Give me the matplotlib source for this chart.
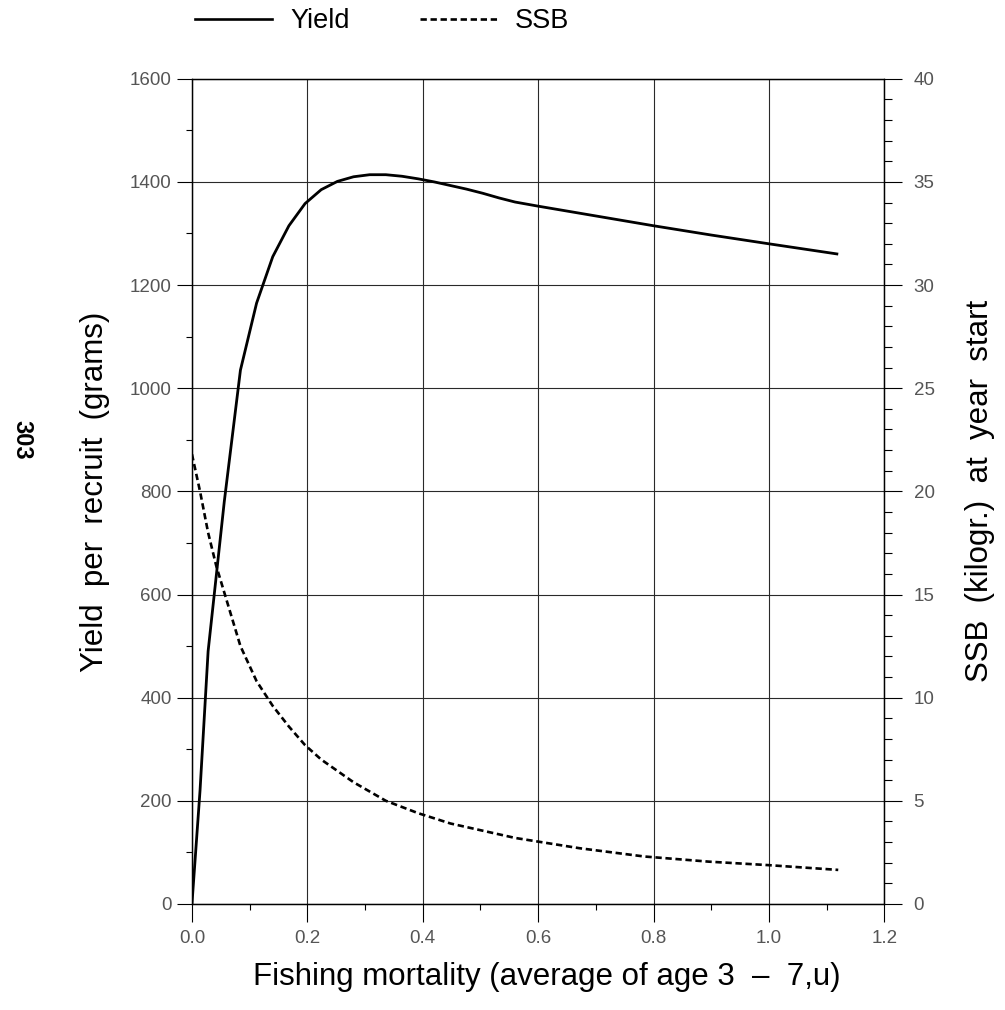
import numpy as np
import matplotlib.pyplot as plt
from matplotlib.ticker import MultipleLocator
from matplotlib.lines import Line2D

plt.rcParams.update({
    "font.family": ["Liberation Sans", "DejaVu Sans"],
    "axes.linewidth": 0.9,
})

# =====================================================
# Data
# =====================================================

f_yield = [0.0, 0.014, 0.028, 0.056, 0.084, 0.112, 0.14, 0.168, 0.196,
           0.224, 0.252, 0.28, 0.308, 0.336, 0.364, 0.392, 0.42, 0.448,
           0.476, 0.504, 0.532, 0.56, 0.6, 0.7, 0.8, 0.9, 1.0, 1.12]
yield_per_recruit = [0, 220, 490, 780, 1035, 1165, 1255, 1315, 1358,
                     1385, 1401, 1410, 1414, 1414, 1411, 1406, 1400, 1393,
                     1386, 1378, 1369, 1361, 1353, 1334, 1315, 1297, 1280, 1260]

f_ssb = [0.0, 0.014, 0.028, 0.042, 0.056, 0.084, 0.112, 0.14, 0.168,
         0.196, 0.224, 0.252, 0.28, 0.336, 0.392, 0.448, 0.56, 0.672,
         0.784, 0.896, 1.0, 1.12]
ssb = [21.8, 20.0, 18.0, 16.4, 15.1, 12.5, 10.8, 9.6, 8.6,
       7.7, 7.0, 6.45, 5.9, 5.0, 4.4, 3.9, 3.2, 2.7,
       2.3, 2.05, 1.88, 1.65]

x_ticks = [0.0, 0.2, 0.4, 0.6, 0.8, 1.0, 1.2]
y_ticks = [0, 200, 400, 600, 800, 1000, 1200, 1400, 1600]
y2_ticks = [0, 5, 10, 15, 20, 25, 30, 35, 40]

# =====================================================
# Plot
# =====================================================

fig = plt.figure(figsize=(10.05, 10.1), dpi=100)
ax = fig.add_axes([0.191, 0.105, 0.689, 0.817])
ax2 = ax.twinx()

ax.plot(f_yield, yield_per_recruit, color="black", linewidth=2.0,
        solid_capstyle="butt")
ax2.plot(f_ssb, ssb, color="black", linewidth=1.9, dashes=(2.4, 1.4))

ax.set_xlim(0, 1.2)
ax.set_ylim(0, 1600)
ax2.set_ylim(0, 40)

ax.set_xticks(x_ticks)
ax.set_xticklabels([f"{v:.1f}" for v in x_ticks])
ax.set_yticks(y_ticks)
ax2.set_yticks(y2_ticks)
ax.xaxis.set_minor_locator(MultipleLocator(0.1))
ax.yaxis.set_minor_locator(MultipleLocator(100))
ax2.yaxis.set_minor_locator(MultipleLocator(1))

ax.grid(True, which="major", color="#2a2a2a", linewidth=0.8)
ax.set_axisbelow(True)

tick_col = "#555555"
ax.tick_params(axis="both", which="major", direction="out", length=11,
               width=0.8, labelsize=13.5, labelcolor=tick_col)
ax.tick_params(axis="x", which="major", length=13, pad=6)
ax.tick_params(axis="both", which="minor", direction="out", length=4.5,
               width=0.8)
ax2.tick_params(axis="y", which="major", direction="out", length=13,
                width=0.8, labelsize=13.5, labelcolor=tick_col, pad=8)
ax2.tick_params(axis="y", which="minor", direction="out", length=6,
                width=0.8)

ax.set_xlabel("Fishing mortality (average of age 3  \u2013  7,u)",
              fontsize=22.5)
ax.xaxis.set_label_coords(0.513, -0.07)
ax.set_ylabel("Yield  per  recruit  (grams)", fontsize=22.5)
ax.yaxis.set_label_coords(-0.118, 0.5)
ax2.set_ylabel("SSB  (kilogr.)  at  year  start", fontsize=22.5)
ax2.yaxis.set_label_coords(1.117, 0.5)

# Legend on top
handles = [
    Line2D([], [], color="black", linewidth=1.9, label="Yield"),
    Line2D([], [], color="black", linewidth=1.9, dashes=(2.4, 1.4),
           label="SSB"),
]
fig.legend(handles=handles, loc="upper left", bbox_to_anchor=(0.17, 1.016),
           ncol=2, frameon=False, fontsize=19.5, handlelength=2.85,
           handletextpad=0.65, columnspacing=2.6)

# Page number
fig.text(0.022, 0.565, "303", rotation=-90, fontsize=17, fontweight="bold",
         ha="center", va="center")

plt.savefig("out.png", dpi=100)
